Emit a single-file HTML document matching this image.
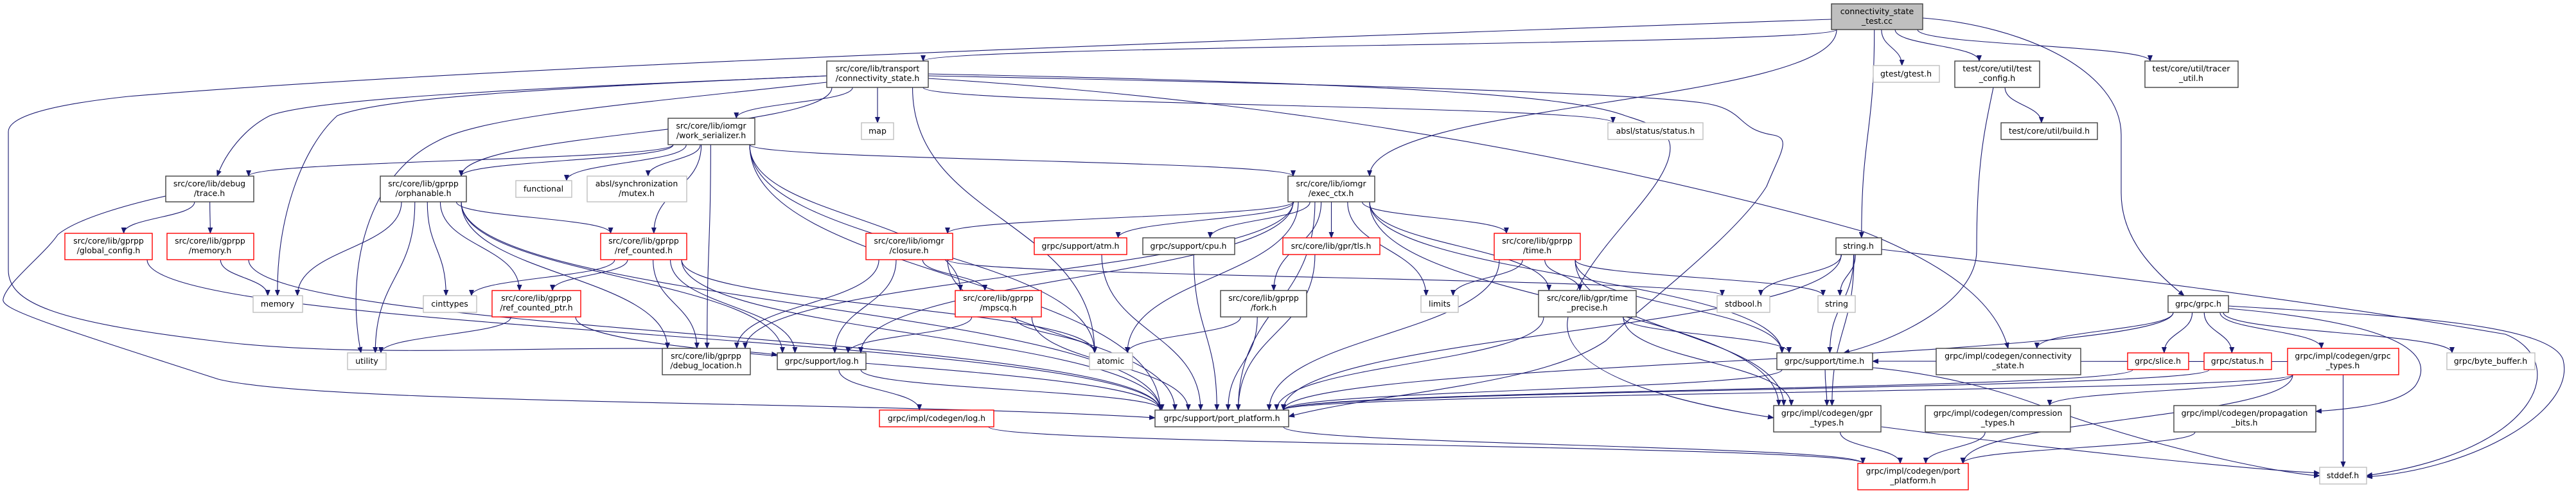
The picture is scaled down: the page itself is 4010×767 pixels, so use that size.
<!DOCTYPE html>
<html><head><meta charset="utf-8"><style>
html,body{margin:0;padding:0;background:#fff;}
svg{display:block;}
text{font-family:"DejaVu Sans","Liberation Sans",sans-serif;font-size:12.5px;fill:#000;}
.k{fill:#fff;stroke:#404040;stroke-width:1.4;}
.r{fill:#fff;stroke:#ff0000;stroke-width:1.4;}
.g{fill:#fff;stroke:#bfbfbf;stroke-width:1.4;}
.t{fill:#bfbfbf;stroke:#404040;stroke-width:1.4;}
.e{fill:none;stroke:#191970;stroke-width:1.1;}
</style></head><body>
<svg id="s" width="4010" height="767" viewBox="0 0 4010 767" xmlns="http://www.w3.org/2000/svg">
<defs><marker id="a" markerWidth="10" markerHeight="8" refX="9" refY="4" orient="auto" markerUnits="userSpaceOnUse"><path d="M0,0 L10,4 L0,8 z" fill="#191970"/></marker></defs>
<g id="edges">
<path class="e" marker-end="url(#a)" d="M2851,30 C2000,60 800,100 200,150 C60,165 13,185 13,205 L13,420 C13,470 80,500 330,530 C600,565 1000,525 1210,552"/>
<path class="e" marker-end="url(#a)" d="M258,305 C200,318 120,340 90,365 C70,395 10,440 5,465 C0,480 60,500 340,590 C500,630 1400,625 1798,650"/>
<path class="e" marker-end="url(#a)" d="M1287,118 C900,135 500,150 420,180 C380,200 350,240 338,274"/>
<path class="e" marker-end="url(#a)" d="M1287,118 C900,135 600,150 525,180 C470,230 430,340 432,460"/>
<path class="e" marker-end="url(#a)" d="M1287,128 C1000,160 750,180 680,220 C560,280 540,440 562,549"/>
<path class="e" marker-end="url(#a)" d="M1445,118 C1800,125 2500,140 2650,160 C2720,170 2700,200 2760,210 C2790,215 2770,240 2750,290 C2700,370 2550,480 2500,530 C2400,600 2150,610 2006,648"/>
<path class="e" marker-end="url(#a)" d="M1445,122 C1900,150 2400,220 2900,360 C3050,420 3110,480 3126,542"/>
<path class="e" marker-end="url(#a)" d="M1445,115 C2200,130 2450,150 2530,180 C2560,190 2600,200 2600,230 C2600,300 2450,400 2440,500 C2430,600 2700,640 2761,650"/>
<path class="e" marker-end="url(#a)" d="M2993,28 C3150,40 3302,110 3302,210 L3302,300 C3302,370 3350,420 3400,460"/>
<path class="e" marker-end="url(#a)" d="M3103,136 C3090,200 3077,250 3077,390 C3077,470 2950,530 2870,549"/>
<path class="e" marker-end="url(#a)" d="M2929,388 C3200,420 3550,460 3900,520 C4000,560 3960,700 3684,740"/>
<path class="e" marker-end="url(#a)" d="M3469,476 C3700,490 3970,500 3990,560 C4010,640 3850,730 3684,742"/>
<path class="e" marker-end="url(#a)" d="M3469,480 C3700,500 3800,540 3760,600 C3740,625 3680,635 3605,640"/>
<path class="e" marker-end="url(#a)" d="M2915,572 C3000,580 3100,600 3200,640 C3400,710 3580,740 3611,740"/>
<path class="e" marker-end="url(#a)" d="M2929,664 C3200,700 3500,730 3611,736"/>
</g>
<g id="edges2"></g>
<g id="nodes">
<rect id="TC" class="t" x="2851" y="6" width="142" height="40"/><text x="2922" y="22" text-anchor="middle">connectivity_state</text><text x="2922" y="37" text-anchor="middle">_test.cc</text>
<rect id="CS" class="k" x="1287" y="95" width="158" height="41"/><text x="1366" y="111" text-anchor="middle">src/core/lib/transport</text><text x="1366" y="126" text-anchor="middle">/connectivity_state.h</text>
<rect id="gtest" class="g" x="2916" y="102" width="103" height="26"/><text x="2967" y="119" text-anchor="middle">gtest/gtest.h</text>
<rect id="TCF" class="k" x="3043" y="95" width="132" height="41"/><text x="3109" y="111" text-anchor="middle">test/core/util/test</text><text x="3109" y="126" text-anchor="middle">_config.h</text>
<rect id="TU" class="k" x="3339" y="95" width="145" height="41"/><text x="3411" y="111" text-anchor="middle">test/core/util/tracer</text><text x="3411" y="126" text-anchor="middle">_util.h</text>
<rect id="map" class="g" x="1341" y="191" width="50" height="26"/><text x="1366" y="208" text-anchor="middle">map</text>
<rect id="astatus" class="g" x="2503" y="191" width="148" height="26"/><text x="2577" y="208" text-anchor="middle">absl/status/status.h</text>
<rect id="build" class="k" x="3115" y="191" width="150" height="26"/><text x="3190" y="208" text-anchor="middle">test/core/util/build.h</text>
<rect id="WS" class="k" x="1040" y="184" width="135" height="41"/><text x="1107" y="200" text-anchor="middle">src/core/lib/iomgr</text><text x="1107" y="215" text-anchor="middle">/work_serializer.h</text>
<rect id="trace" class="k" x="258" y="274" width="137" height="40"/><text x="326" y="290" text-anchor="middle">src/core/lib/debug</text><text x="326" y="305" text-anchor="middle">/trace.h</text>
<rect id="orph" class="k" x="592" y="274" width="134" height="40"/><text x="659" y="290" text-anchor="middle">src/core/lib/gprpp</text><text x="659" y="305" text-anchor="middle">/orphanable.h</text>
<rect id="functional" class="g" x="803" y="281" width="87" height="26"/><text x="846" y="298" text-anchor="middle">functional</text>
<rect id="mutex" class="g" x="914" y="274" width="155" height="40"/><text x="991" y="290" text-anchor="middle">absl/synchronization</text><text x="991" y="305" text-anchor="middle">/mutex.h</text>
<rect id="EC" class="k" x="2005" y="274" width="135" height="40"/><text x="2072" y="290" text-anchor="middle">src/core/lib/iomgr</text><text x="2072" y="305" text-anchor="middle">/exec_ctx.h</text>
<rect id="gconf" class="r" x="101" y="363" width="136" height="41"/><text x="169" y="379" text-anchor="middle">src/core/lib/gprpp</text><text x="169" y="394" text-anchor="middle">/global_config.h</text>
<rect id="memh" class="r" x="260" y="363" width="135" height="41"/><text x="327" y="379" text-anchor="middle">src/core/lib/gprpp</text><text x="327" y="394" text-anchor="middle">/memory.h</text>
<rect id="rc" class="r" x="935" y="363" width="134" height="41"/><text x="1002" y="379" text-anchor="middle">src/core/lib/gprpp</text><text x="1002" y="394" text-anchor="middle">/ref_counted.h</text>
<rect id="closure" class="r" x="1348" y="363" width="135" height="41"/><text x="1415" y="379" text-anchor="middle">src/core/lib/iomgr</text><text x="1415" y="394" text-anchor="middle">/closure.h</text>
<rect id="atm" class="r" x="1610" y="370" width="144" height="26"/><text x="1682" y="387" text-anchor="middle">grpc/support/atm.h</text>
<rect id="cpu" class="k" x="1779" y="370" width="143" height="26"/><text x="1850" y="387" text-anchor="middle">grpc/support/cpu.h</text>
<rect id="tls" class="r" x="1997" y="370" width="151" height="26"/><text x="2072" y="387" text-anchor="middle">src/core/lib/gpr/tls.h</text>
<rect id="timeg" class="r" x="2326" y="363" width="134" height="41"/><text x="2393" y="379" text-anchor="middle">src/core/lib/gprpp</text><text x="2393" y="394" text-anchor="middle">/time.h</text>
<rect id="stringh" class="k" x="2858" y="370" width="71" height="26"/><text x="2893" y="387" text-anchor="middle">string.h</text>
<rect id="memory" class="g" x="394" y="460" width="77" height="26"/><text x="432" y="477" text-anchor="middle">memory</text>
<rect id="cint" class="g" x="659" y="460" width="83" height="26"/><text x="700" y="477" text-anchor="middle">cinttypes</text>
<rect id="rcp" class="r" x="766" y="452" width="138" height="41"/><text x="835" y="468" text-anchor="middle">src/core/lib/gprpp</text><text x="835" y="483" text-anchor="middle">/ref_counted_ptr.h</text>
<rect id="mpscq" class="r" x="1487" y="452" width="134" height="41"/><text x="1554" y="468" text-anchor="middle">src/core/lib/gprpp</text><text x="1554" y="483" text-anchor="middle">/mpscq.h</text>
<rect id="fork" class="k" x="1900" y="452" width="134" height="41"/><text x="1967" y="468" text-anchor="middle">src/core/lib/gprpp</text><text x="1967" y="483" text-anchor="middle">/fork.h</text>
<rect id="limits" class="g" x="2212" y="460" width="58" height="26"/><text x="2241" y="477" text-anchor="middle">limits</text>
<rect id="tprec" class="k" x="2395" y="452" width="152" height="41"/><text x="2471" y="468" text-anchor="middle">src/core/lib/gpr/time</text><text x="2471" y="483" text-anchor="middle">_precise.h</text>
<rect id="stdbool" class="g" x="2673" y="460" width="82" height="26"/><text x="2714" y="477" text-anchor="middle">stdbool.h</text>
<rect id="string" class="g" x="2830" y="460" width="58" height="26"/><text x="2859" y="477" text-anchor="middle">string</text>
<rect id="grpch" class="k" x="3375" y="460" width="94" height="26"/><text x="3422" y="477" text-anchor="middle">grpc/grpc.h</text>
<rect id="utility" class="g" x="541" y="549" width="60" height="26"/><text x="571" y="566" text-anchor="middle">utility</text>
<rect id="dbg" class="k" x="1031" y="542" width="137" height="41"/><text x="1099" y="558" text-anchor="middle">src/core/lib/gprpp</text><text x="1099" y="573" text-anchor="middle">/debug_location.h</text>
<rect id="log" class="k" x="1210" y="549" width="138" height="26"/><text x="1279" y="566" text-anchor="middle">grpc/support/log.h</text>
<rect id="atomic" class="g" x="1696" y="549" width="67" height="26"/><text x="1729" y="566" text-anchor="middle">atomic</text>
<rect id="stime" class="k" x="2766" y="549" width="149" height="26"/><text x="2840" y="566" text-anchor="middle">grpc/support/time.h</text>
<rect id="cconn" class="k" x="3014" y="542" width="225" height="41"/><text x="3126" y="558" text-anchor="middle">grpc/impl/codegen/connectivity</text><text x="3126" y="573" text-anchor="middle">_state.h</text>
<rect id="slice" class="r" x="3312" y="549" width="95" height="26"/><text x="3359" y="566" text-anchor="middle">grpc/slice.h</text>
<rect id="gstatus" class="r" x="3431" y="549" width="105" height="26"/><text x="3483" y="566" text-anchor="middle">grpc/status.h</text>
<rect id="gtypes" class="r" x="3561" y="542" width="173" height="41"/><text x="3647" y="558" text-anchor="middle">grpc/impl/codegen/grpc</text><text x="3647" y="573" text-anchor="middle">_types.h</text>
<rect id="bbuf" class="g" x="3809" y="549" width="137" height="26"/><text x="3877" y="566" text-anchor="middle">grpc/byte_buffer.h</text>
<rect id="clog" class="r" x="1369" y="638" width="178" height="26"/><text x="1458" y="655" text-anchor="middle">grpc/impl/codegen/log.h</text>
<rect id="pp" class="k" x="1798" y="638" width="208" height="26"/><text x="1902" y="655" text-anchor="middle">grpc/support/port_platform.h</text>
<rect id="gprt" class="k" x="2761" y="631" width="167" height="41"/><text x="2844" y="647" text-anchor="middle">grpc/impl/codegen/gpr</text><text x="2844" y="662" text-anchor="middle">_types.h</text>
<rect id="comp" class="k" x="2997" y="631" width="226" height="41"/><text x="3110" y="647" text-anchor="middle">grpc/impl/codegen/compression</text><text x="3110" y="662" text-anchor="middle">_types.h</text>
<rect id="prop" class="k" x="3384" y="631" width="221" height="41"/><text x="3494" y="647" text-anchor="middle">grpc/impl/codegen/propagation</text><text x="3494" y="662" text-anchor="middle">_bits.h</text>
<rect id="cpp" class="r" x="2892" y="721" width="172" height="41"/><text x="2978" y="737" text-anchor="middle">grpc/impl/codegen/port</text><text x="2978" y="752" text-anchor="middle">_platform.h</text>
<rect id="stddef" class="g" x="3611" y="727" width="73" height="26"/><text x="3647" y="744" text-anchor="middle">stddef.h</text>
</g>
</svg>
<script>
(function(){
var E=[
["TC","CS"],["TC","EC"],["TC","stringh"],["TC","gtest"],["TC","TCF"],["TC","TU"],
["CS","orph"],["CS","WS"],["CS","map"],["CS","atomic"],["CS","astatus"],
["WS","orph"],["WS","trace"],["WS","functional"],["WS","mutex"],["WS","rc"],["WS","dbg"],["WS","atomic"],["WS","pp"],["WS","mpscq"],["WS","EC"],
["trace","gconf"],["trace","memh"],["gconf","pp"],["memh","memory"],["memh","pp"],
["orph","memory"],["orph","utility"],["orph","cint"],["orph","rcp"],["orph","rc"],["orph","dbg"],["orph","pp"],["orph","log"],
["rc","cint"],["rc","rcp"],["rc","dbg"],["rc","log"],["rc","atomic"],["rc","pp"],
["rcp","utility"],["rcp","pp"],
["EC","closure"],["EC","atm"],["EC","cpu"],["EC","tls"],["EC","fork"],["EC","timeg"],["EC","limits"],["EC","tprec"],["EC","stime"],["EC","pp"],["EC","dbg"],["EC","log"],["EC","atomic"],["EC","gprt"],
["closure","dbg"],["closure","log"],["closure","mpscq"],["closure","pp"],["closure","stdbool"],
["mpscq","log"],["mpscq","atomic"],["mpscq","pp"],
["atm","pp"],["cpu","pp"],["tls","pp"],["fork","atomic"],["fork","pp"],
["log","clog"],["log","pp"],["clog","cpp"],
["timeg","limits"],["timeg","string"],["timeg","tprec"],["timeg","stime"],["timeg","gprt"],["timeg","pp"],
["tprec","stime"],["tprec","gprt"],["tprec","pp"],
["stringh","stdbool"],["stringh","string"],["stringh","pp"],["stringh","gprt"],["stringh","stime"],
["stime","gprt"],["stime","pp"],["gprt","cpp"],["pp","cpp"],
["TCF","build"],
["grpch","cconn"],["grpch","slice"],["grpch","gstatus"],["grpch","gtypes"],["grpch","bbuf"],["grpch","pp"],
["slice","pp"],["gstatus","pp"],["gtypes","pp"],["gtypes","comp"],["gtypes","cpp"],["gtypes","stddef"],["gtypes","stime"],
["comp","cpp"],["prop","cpp"]
];
function R(id){var r=document.getElementById(id);return {x:+r.getAttribute("x"),y:+r.getAttribute("y"),w:+r.getAttribute("width"),h:+r.getAttribute("height")};}
var g=document.getElementById("edges2"),ns="http://www.w3.org/2000/svg";
E.forEach(function(e){
var a=R(e[0]),b=R(e[1]),ax=a.x+a.w/2,bx=b.x+b.w/2,d;
if(b.y>a.y+a.h-2){
var sx=Math.max(a.x+8,Math.min(a.x+a.w-8,ax+(bx-ax)*0.15));
var ex=Math.max(b.x+8,Math.min(b.x+b.w-8,bx+(ax-bx)*0.15));
var sy=a.y+a.h,ey=b.y,dy=(ey-sy)*0.5;
d="M"+sx+","+sy+" C"+sx+","+(sy+dy)+" "+ex+","+(ey-dy)+" "+ex+","+ey;
}else{
var ay=a.y+a.h/2,by=b.y+b.h/2,sx2,ex2;
if(bx<ax){sx2=a.x;ex2=b.x+b.w;}else{sx2=a.x+a.w;ex2=b.x;}
var mx=(sx2+ex2)/2;
d="M"+sx2+","+ay+" C"+mx+","+ay+" "+mx+","+by+" "+ex2+","+by;
}
var p=document.createElementNS(ns,"path");p.setAttribute("d",d);p.setAttribute("class","e");p.setAttribute("marker-end","url(#a)");g.appendChild(p);
});
})();
</script>
</body></html>
